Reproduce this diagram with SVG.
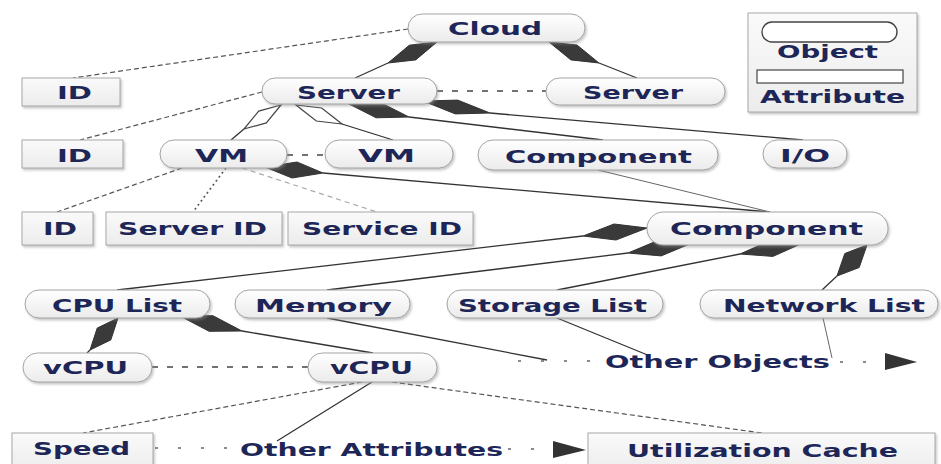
<svg xmlns="http://www.w3.org/2000/svg" width="941" height="464" viewBox="0 0 941 464">
  <defs>
    <linearGradient id="objFill" x1="0" y1="0" x2="0" y2="1">
      <stop offset="0" stop-color="#ffffff"/>
      <stop offset="1" stop-color="#ebebeb"/>
    </linearGradient>
    <linearGradient id="attrFill" x1="0" y1="0" x2="0" y2="1">
      <stop offset="0" stop-color="#fafafa"/>
      <stop offset="1" stop-color="#ececec"/>
    </linearGradient>
    <filter id="shadow" x="-10%" y="-20%" width="120%" height="150%">
      <feDropShadow dx="1.5" dy="2" stdDeviation="1.2" flood-color="#888" flood-opacity="0.45"/>
    </filter>
  </defs>
  <style>
    .obj { fill: url(#objFill); stroke: #a3a3a3; stroke-width: 1; filter: url(#shadow); }
    .attr { fill: url(#attrFill); stroke: #a8a8a8; stroke-width: 1; filter: url(#shadow); }
    .lbl { font-family: "DejaVu Sans", "Liberation Sans", sans-serif; font-weight: bold; font-size: 18px; fill: #1d2656; }
    .solid { fill: none; stroke: #333; stroke-width: 1.3; }
    .thin { fill: none; stroke: #666; stroke-width: 1; }
    .dash { fill: none; stroke: #555; stroke-width: 1.2; stroke-dasharray: 5 3; }
    .dashL { fill: none; stroke: #444; stroke-width: 1.4; stroke-dasharray: 6 9; }
    .dot { fill: none; stroke: #555; stroke-width: 1.6; stroke-dasharray: 2 3; }
    .dashF { fill: none; stroke: #aaa; stroke-width: 1.2; stroke-dasharray: 5 4; }
    .flow { fill: none; stroke: #666; stroke-width: 1.6; stroke-dasharray: 3 20; }
    .dFill { fill: #3a3a3a; stroke: #333; stroke-width: 1; }
    .dHollow { fill: #fff; stroke: #444; stroke-width: 1.2; }
    .head { fill: #333; }
  </style>

  <!-- connectors -->
  <g id="connectors">
    <!-- attribute links -->
    <path class="dash" d="M408,29 L73,78"/>
    <path class="dash" d="M262,92 L80,140"/>
    <path class="dashL" d="M437,91 L546,91"/>
    <path class="dashL" d="M287,155 L325,155"/>
    <path class="dash" d="M182,168 L57,212"/>
    <path class="dot" d="M226,168 L193,212"/>
    <path class="dashF" d="M242,168 L377,212"/>
    <path class="dashL" d="M152,367 L308,367"/>
    <path class="dash" d="M362,382 L83,433"/>
    <path class="dash" d="M392,382 L762,433"/>

    <!-- composition: Cloud -> Server -->
    <path class="solid" d="M388,63 L355,78"/>
    <polygon class="dFill" points="437,42 409.3,45.2 388,63 415.7,59.9"/>
    <path class="solid" d="M599,63 L637,78"/>
    <polygon class="dFill" points="549,42 577.1,45.1 599,63 570.9,59.9"/>

    <!-- aggregation: Server -> VM -->
    <path class="solid" d="M244,129 L231,140"/>
    <polygon class="dHollow" points="281,105 258.7,111.1 244,129 266.3,122.9"/>
    <path class="solid" d="M342,124 L393,140"/>
    <polygon class="dHollow" points="296,105 321.7,108 342,124 316.3,121"/>

    <!-- composition: Server -> Component, I/O -->
    <path class="solid" d="M409,117 L603,140"/>
    <polygon class="dFill" points="347,103 379.8,102.2 409,117 376.2,117.8"/>
    <path class="solid" d="M490,113 L803,140"/>
    <polygon class="dFill" points="423,101 457.7,100.1 490,113 455.3,113.9"/>

    <!-- VM -> Component -->
    <path class="solid" d="M323,173 L770,212"/>
    <polygon class="dFill" points="265,167 297,162 323,173 292,178"/>
    <path class="thin" d="M598,170 L770,212"/>

    <!-- Component -> lists -->
    <path class="solid" d="M583,236 L117,290"/>
    <polygon class="dFill" points="647,228 614,224 583,236 616,240"/>
    <path class="solid" d="M628,253 L327,290"/>
    <polygon class="dFill" points="692,243 658.8,240.1 628,253 661.2,255.9"/>
    <path class="solid" d="M740,254 L557,290"/>
    <polygon class="dFill" points="803,243 770.1,240.6 740,254 772.9,256.4"/>
    <path class="solid" d="M837,276 L822,290"/>
    <polygon class="dFill" points="867,245 844.8,253.5 837,276 859.2,267.5"/>

    <!-- CPU List -> vCPU -->
    <path class="solid" d="M90,350 L87,353"/>
    <polygon class="dFill" points="118,318 97.2,328.1 90,350 110.8,339.9"/>
    <path class="solid" d="M242,331 L373,353"/>
    <polygon class="dFill" points="180,316 212.9,315.7 242,331 209.1,331.3"/>

    <!-- lists -> Other Objects -->
    <path class="solid" d="M327,318 L547,360"/>
    <path class="solid" d="M557,318 L650,356"/>
    <path class="thin" d="M823,318 L832,358" stroke-width="1.6"/>
    <path class="flow" d="M518,361 L602,361"/>
    <path class="flow" d="M840,362 L884,362"/>
    <polygon class="head" points="885,353 917,362 885,370"/>

    <!-- vCPU -> Other Attributes -->
    <path class="solid" d="M372,382 L277,441"/>
    <path class="flow" d="M155,448 L238,448"/>
    <path class="flow" d="M508,449 L552,449"/>
    <polygon class="head" points="553,441 586,450 553,458"/>
  </g>

  <!-- legend -->
  <g id="legend">
    <rect class="attr" x="748" y="13" width="169" height="99"/>
    <rect x="762" y="22" width="135" height="20" rx="10" fill="#fff" stroke="#444" stroke-width="1.4"/>
    <text class="lbl" x="777" y="58" textLength="101" lengthAdjust="spacingAndGlyphs">Object</text>
    <rect x="757" y="70" width="146" height="13" fill="#fff" stroke="#444" stroke-width="1.2"/>
    <text class="lbl" x="760" y="103" textLength="145" lengthAdjust="spacingAndGlyphs">Attribute</text>
  </g>

  <!-- objects -->
  <g id="cloud">
    <rect class="obj" x="408" y="14" width="177" height="28" rx="14"/>
    <text class="lbl" x="448" y="35" textLength="94" lengthAdjust="spacingAndGlyphs">Cloud</text>
  </g>
  <g id="server">
    <rect class="obj" x="262" y="78" width="175" height="26" rx="13"/>
    <text class="lbl" x="297" y="99" textLength="103" lengthAdjust="spacingAndGlyphs">Server</text>
  </g>
  <g id="server-2">
    <rect class="obj" x="546" y="78" width="179" height="27" rx="13.5"/>
    <text class="lbl" x="583" y="99" textLength="100" lengthAdjust="spacingAndGlyphs">Server</text>
  </g>
  <g id="vm">
    <rect class="obj" x="160" y="140" width="127" height="28" rx="14"/>
    <text class="lbl" x="195" y="162" textLength="53" lengthAdjust="spacingAndGlyphs">VM</text>
  </g>
  <g id="vm-2">
    <rect class="obj" x="325" y="140" width="128" height="28" rx="14"/>
    <text class="lbl" x="358" y="162" textLength="57" lengthAdjust="spacingAndGlyphs">VM</text>
  </g>
  <g id="component-server">
    <rect class="obj" x="478" y="140" width="240" height="30" rx="15"/>
    <text class="lbl" x="505" y="163" textLength="187" lengthAdjust="spacingAndGlyphs">Component</text>
  </g>
  <g id="io">
    <rect class="obj" x="763" y="140" width="84" height="28" rx="14"/>
    <text class="lbl" x="780" y="162" textLength="50" lengthAdjust="spacingAndGlyphs">I/O</text>
  </g>
  <g id="component-vm">
    <rect class="obj" x="647" y="212" width="241" height="33" rx="16.5"/>
    <text class="lbl" x="670" y="235" textLength="193" lengthAdjust="spacingAndGlyphs">Component</text>
  </g>
  <g id="cpu-list">
    <rect class="obj" x="25" y="290" width="185" height="28" rx="14"/>
    <text class="lbl" x="52" y="312" textLength="130" lengthAdjust="spacingAndGlyphs">CPU List</text>
  </g>
  <g id="memory">
    <rect class="obj" x="235" y="290" width="175" height="28" rx="14"/>
    <text class="lbl" x="255" y="312" textLength="137" lengthAdjust="spacingAndGlyphs">Memory</text>
  </g>
  <g id="storage-list">
    <rect class="obj" x="447" y="290" width="216" height="28" rx="14"/>
    <text class="lbl" x="458" y="312" textLength="189" lengthAdjust="spacingAndGlyphs">Storage List</text>
  </g>
  <g id="network-list">
    <rect class="obj" x="700" y="290" width="238" height="28" rx="14"/>
    <text class="lbl" x="723" y="312" textLength="202" lengthAdjust="spacingAndGlyphs">Network List</text>
  </g>
  <g id="vcpu">
    <rect class="obj" x="23" y="353" width="129" height="29" rx="14.5"/>
    <text class="lbl" x="43" y="374" textLength="85" lengthAdjust="spacingAndGlyphs">vCPU</text>
  </g>
  <g id="vcpu-2">
    <rect class="obj" x="308" y="353" width="129" height="29" rx="14.5"/>
    <text class="lbl" x="330" y="374" textLength="83" lengthAdjust="spacingAndGlyphs">vCPU</text>
  </g>

  <!-- attributes -->
  <g id="cloud-id">
    <rect class="attr" x="22" y="78" width="98" height="28"/>
    <text class="lbl" x="57" y="99" textLength="35" lengthAdjust="spacingAndGlyphs">ID</text>
  </g>
  <g id="server-id-attr">
    <rect class="attr" x="22" y="140" width="101" height="28"/>
    <text class="lbl" x="57" y="162" textLength="35" lengthAdjust="spacingAndGlyphs">ID</text>
  </g>
  <g id="vm-id">
    <rect class="attr" x="22" y="212" width="71" height="33"/>
    <text class="lbl" x="43" y="235" textLength="34" lengthAdjust="spacingAndGlyphs">ID</text>
  </g>
  <g id="vm-server-id">
    <rect class="attr" x="106" y="212" width="176" height="33"/>
    <text class="lbl" x="118" y="235" textLength="149" lengthAdjust="spacingAndGlyphs">Server ID</text>
  </g>
  <g id="vm-service-id">
    <rect class="attr" x="288" y="212" width="185" height="33"/>
    <text class="lbl" x="302" y="235" textLength="160" lengthAdjust="spacingAndGlyphs">Service ID</text>
  </g>
  <g id="speed">
    <rect class="attr" x="12" y="433" width="141" height="40"/>
    <text class="lbl" x="33" y="455" textLength="97" lengthAdjust="spacingAndGlyphs">Speed</text>
  </g>
  <g id="utilization-cache">
    <rect class="attr" x="588" y="433" width="347" height="40"/>
    <text class="lbl" x="627" y="457" textLength="271" lengthAdjust="spacingAndGlyphs">Utilization Cache</text>
  </g>

  <!-- free labels -->
  <g id="other-objects">
    <text class="lbl" x="605" y="368" textLength="225" lengthAdjust="spacingAndGlyphs">Other Objects</text>
  </g>
  <g id="other-attributes">
    <text class="lbl" x="240" y="456" textLength="263" lengthAdjust="spacingAndGlyphs">Other Attributes</text>
  </g>
</svg>
